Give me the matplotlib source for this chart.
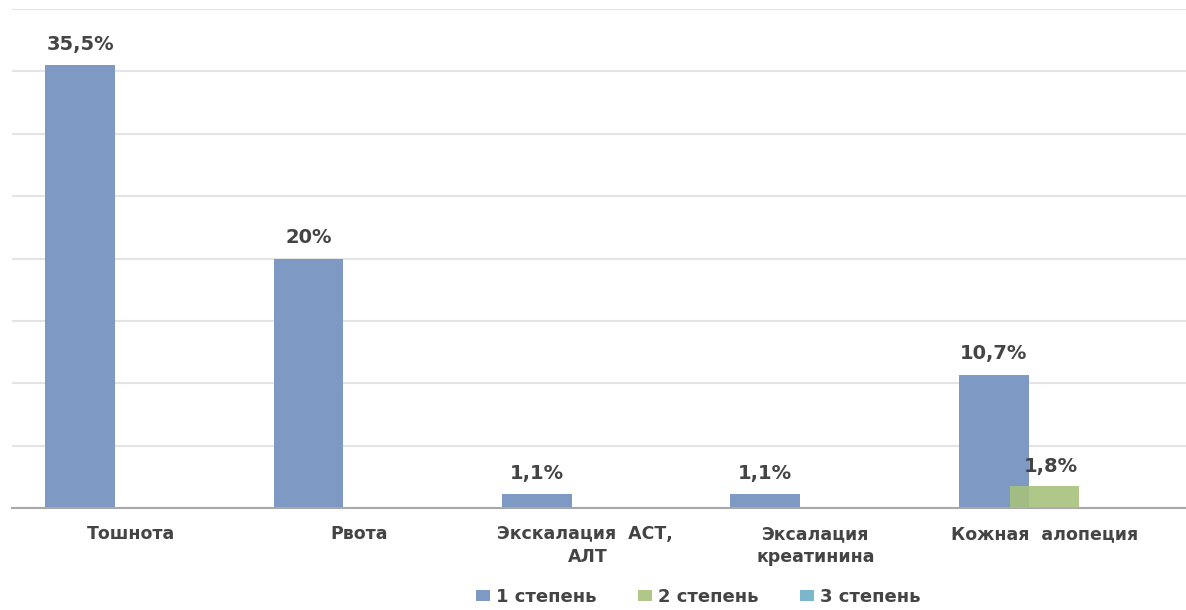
import numpy as np
import matplotlib.pyplot as plt

# Нежелательные явления по степени тяжести, %
categories = ['Тошнота', 'Рвота', 'Экскалация  АСТ, \nАЛТ', 'Эксалация\nкреатинина', 'Кожная  алопеция']
grade1 = [35.5, 20, 1.1, 1.1, 10.7]
grade2 = [0, 0, 0, 0, 1.8]
grade3 = [0, 0, 0, 0, 0]
labels1 = ['35,5%', '20%', '1,1%', '1,1%', '10,7%']
labels2 = ['', '', '', '', '1,8%']
series_names = ['1 степень', '2 степень', '3 степень']

plt.rcParams['font.family'] = ['DejaVu Sans']
txt = '#444444'

fig = plt.figure(figsize=(11.86, 6.10), dpi=100)
ax = fig.add_axes([12/1186, 1-508/610, 1-12/1186, (508-9)/610])

x = np.arange(len(categories))
w = 0.305
off = 0.222
c1, c2, c3 = '#7e9ac4', '#a6c27c', '#7bb6ca'

b1 = ax.bar(x - off, grade1, w, color=c1, label=series_names[0], zorder=2)
b2 = ax.bar(x, grade2, w, color=c2, alpha=0.9, label=series_names[1], zorder=3)
b3 = ax.bar(x + off, grade3, w, color=c3, label=series_names[2], zorder=2)

for i, v in enumerate(grade1):
    ax.text(x[i] - off, v + 0.9, labels1[i], ha='center', va='bottom',
            fontsize=14, fontweight='bold', color=txt)
for i, v in enumerate(grade2):
    if labels2[i]:
        ax.text(x[i] + 0.03, v + 0.8, labels2[i], ha='center', va='bottom',
                fontsize=14, fontweight='bold', color=txt)

ax.set_xlim(-0.52, 4.62)
ax.set_ylim(0, 40)
ax.set_yticks(np.arange(0, 41, 5))
ax.yaxis.grid(True, color='#e4e4e4', linewidth=1.5, zorder=0)
ax.tick_params(axis='y', left=False, labelleft=False)
ax.tick_params(axis='x', bottom=False, pad=9)
ax.set_xticks(x)
ax.set_xticklabels(categories, fontsize=12.5, fontweight='bold', color=txt, linespacing=1.35)
for s in ['top', 'right', 'left']:
    ax.spines[s].set_visible(False)
ax.spines['bottom'].set_color('#a8a8a8')
ax.spines['bottom'].set_linewidth(1.5)

leg = fig.legend(handles=[b1, b2, b3], loc='center', bbox_to_anchor=(698/1186, 1-597/610),
                 ncol=3, frameon=False, handlelength=0.8, handleheight=0.55,
                 columnspacing=2.3, handletextpad=0.3, prop={'weight': 'bold', 'size': 13})
for t in leg.get_texts():
    t.set_color(txt)

plt.savefig('out.png', dpi=100)
